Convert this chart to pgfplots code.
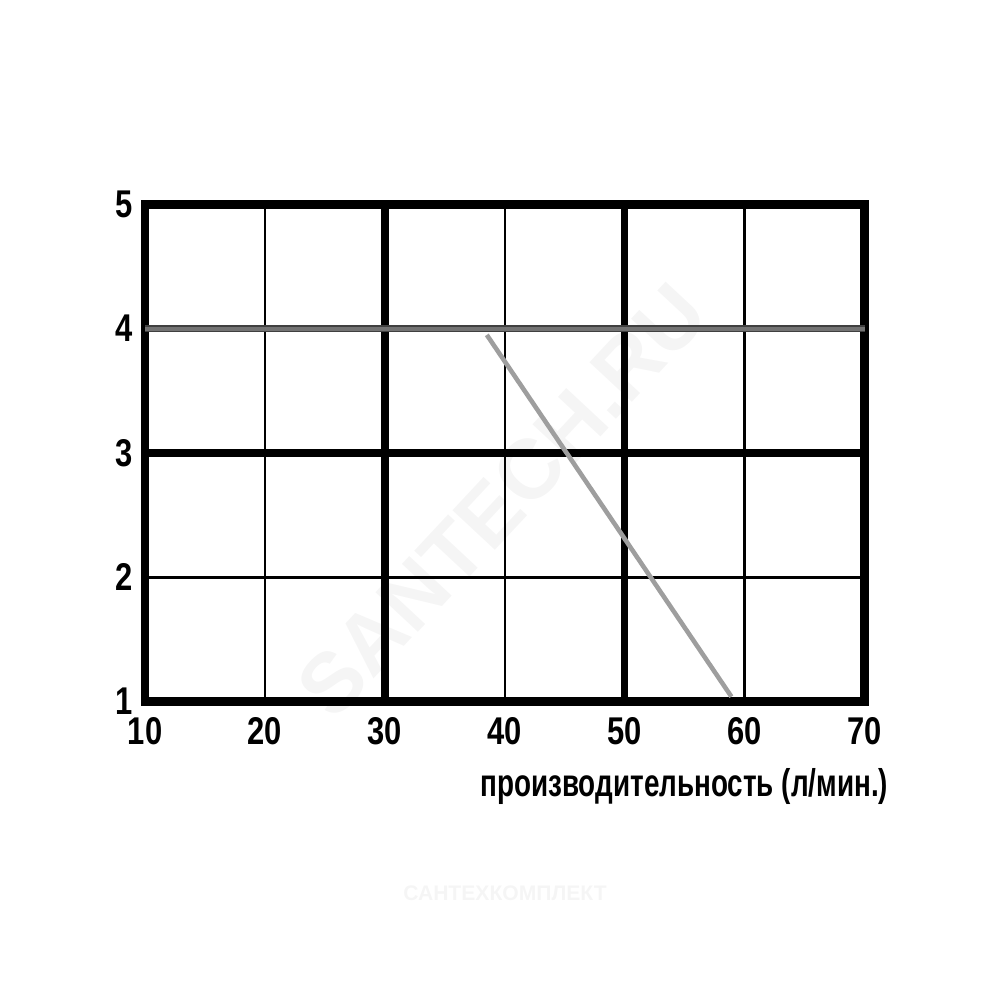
\documentclass[border=0pt]{standalone}
\usepackage{pgfplots}
\pgfplotsset{compat=1.18}
\usepackage{fontspec}
\setmainfont[FakeStretch=0.8]{Liberation Sans}
\newfontfamily\labelfont[FakeStretch=0.72]{Liberation Sans}
\newfontfamily\wmfont{Liberation Sans}

\begin{document}
\begin{tikzpicture}[x=0.01cm,y=0.01cm]
  % page frame: 1000 x 1000 units, y measured upward
  \useasboundingbox (0,0) rectangle (1000,1000);
  % watermarks, behind the chart
  \node[rotate=47, text=black!4, font=\wmfont\fontsize{24}{24}\selectfont\bfseries]
    at (502,500) {SANTECH.RU};
  \node[text=black!4, font=\wmfont\fontsize{6}{6}\selectfont\bfseries]
    at (505,107) {САНТЕХКОМПЛЕКТ};
  \begin{axis}[
      at={(121,240)}, anchor=south west,
      scale only axis, width=7.19cm, height=4.97cm,
      xmin=10, xmax=70, ymin=1, ymax=5,
      xtick={10,20,...,70}, ytick={1,2,...,5},
      tick style={draw=none},
      axis line style={line width=2.4pt},
      grid=none,
      /pgf/number format/assume math mode=true,
      ticklabel style={font=\fontsize{11}{13}\selectfont\bfseries},
      xticklabel style={yshift=-1pt},
      yticklabel style={xshift=0pt},
      xlabel={производительность (л/мин.)},
      xlabel style={font=\labelfont\fontsize{11}{13}\selectfont\bfseries,
        at={(axis description cs:1.05,-0.17)}, anchor=east},
      clip=false,
    ]
    % thin grid
    \addplot[black, line width=0.7pt, forget plot] coordinates {(20,1) (20,5)};
    \addplot[black, line width=0.7pt, forget plot] coordinates {(40,1) (40,5)};
    \addplot[black, line width=0.7pt, forget plot] coordinates {(60,1) (60,5)};
    \addplot[black, line width=0.7pt, forget plot] coordinates {(10,2) (70,2)};
    % thick grid
    \addplot[black, line width=2.1pt, forget plot] coordinates {(30,1) (30,5)};
    \addplot[black, line width=2.1pt, forget plot] coordinates {(50,1) (50,5)};
    \addplot[black, line width=2.1pt, forget plot] coordinates {(10,3) (70,3)};
    % level line at 4
    \addplot[black!75, line width=2.0pt] coordinates {(10,4) (70,4)};
    \addplot[black!55, line width=1.1pt] coordinates {(10,4) (70,4)};
    % performance curve
    \addplot[black!38, line width=1.3pt] coordinates {(38.5,3.95) (58.9,1.04)};
  \end{axis}
\end{tikzpicture}
\end{document}
